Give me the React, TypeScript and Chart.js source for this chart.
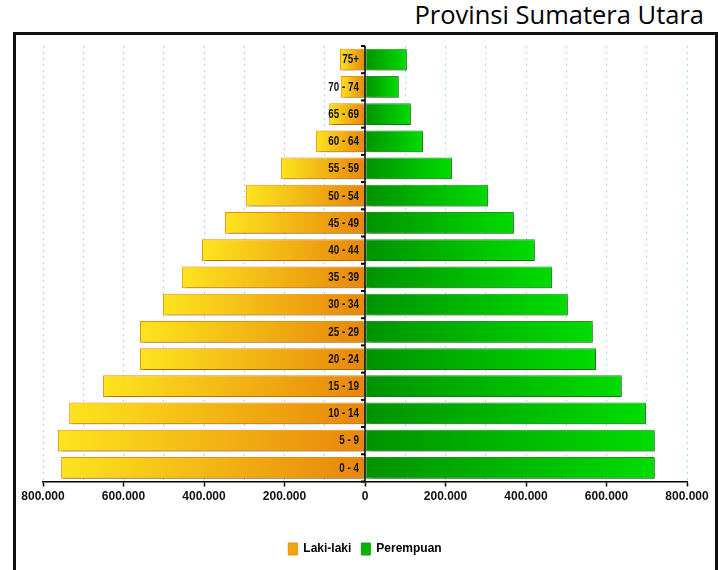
import React, { useEffect, useRef } from 'react';
import { Chart, registerables } from 'chart.js';

Chart.register(...registerables);

// ---------- data ----------
const titleText = 'Provinsi Sumatera Utara';
const seriesNames = ['Laki-laki', 'Perempuan'];
const ageGroups = [
  '75+', '70 - 74', '65 - 69', '60 - 64', '55 - 59', '50 - 54', '45 - 49', '40 - 44',
  '35 - 39', '30 - 34', '25 - 29', '20 - 24', '15 - 19', '10 - 14', '5 - 9', '0 - 4',
];
const lakiLaki = [
  62000, 60000, 89000, 122000, 209000, 296000, 348000, 405000,
  455000, 502000, 559000, 559000, 651000, 735000, 763000, 755000,
];
const perempuan = [
  104000, 84000, 114000, 144000, 216000, 306000, 370000, 422000,
  465000, 504000, 566000, 574000, 638000, 698000, 720000, 720000,
];
const axisMin = -800000;
const axisMax = 800000;
const gridStep = 100000;
const labelStep = 200000;

// ---------- styling ----------
const SANS = "'Liberation Sans', Arial, sans-serif";
const CANVAS_W = 699;
const CANVAS_H = 560;
const X_AXIS_H = 51.5;

const formatNumber = (v: number) =>
  String(Math.abs(Math.round(v))).replace(/\B(?=(\d{3})+(?!\d))/g, '.');

const barGradient = (ctx: any, fromColor: string, toColor: string, fallback: string) => {
  if (ctx.type !== 'data') return fallback;
  const chart = ctx.chart;
  const xs = chart.scales && chart.scales.x;
  if (!xs || !chart.chartArea) return fallback;
  const v = ctx.raw as number;
  const x0 = xs.getPixelForValue(0);
  const x1 = xs.getPixelForValue(v);
  if (!isFinite(x0) || !isFinite(x1) || Math.abs(x1 - x0) < 1) return fallback;
  const g = chart.ctx.createLinearGradient(x1, 0, x0, 0);
  g.addColorStop(0, fromColor);
  g.addColorStop(1, toColor);
  return g;
};

const shadowPlugin = {
  id: 'barShadow',
  beforeDatasetsDraw(chart: any) {
    const { ctx } = chart;
    ctx.save();
    ctx.shadowColor = 'rgba(0,0,0,0.32)';
    ctx.shadowOffsetX = 2;
    ctx.shadowOffsetY = 2;
    ctx.shadowBlur = 3;
  },
  afterDatasetsDraw(chart: any) {
    chart.ctx.restore();
  },
};

const centerAxisPlugin = {
  id: 'centerAxis',
  afterDatasetsDraw(chart: any) {
    const { ctx, chartArea, scales } = chart;
    const xs = scales.x;
    const ys = scales.y;
    const cx = xs.getPixelForValue(0);
    ctx.save();
    ctx.strokeStyle = '#000';
    ctx.lineWidth = 1.5;
    ctx.beginPath();
    ctx.moveTo(cx, chartArea.top);
    ctx.lineTo(cx, chartArea.bottom);
    ctx.stroke();
    ctx.lineWidth = 2;
    for (let i = 0; i <= ageGroups.length; i++) {
      const yy = ys.getPixelForValue(i - 0.5);
      ctx.beginPath();
      ctx.moveTo(cx - 4, yy);
      ctx.lineTo(cx, yy);
      ctx.stroke();
    }
    ctx.fillStyle = '#111';
    ctx.font = `bold 12px ${SANS}`;
    ctx.textAlign = 'right';
    ctx.textBaseline = 'middle';
    ageGroups.forEach((label, i) => {
      ctx.save();
      ctx.translate(cx - 6, ys.getPixelForValue(i) + 0.5);
      ctx.scale(0.82, 1);
      ctx.fillText(label, 0, 0);
      ctx.restore();
    });
    ctx.restore();
  },
};

export default function App() {
  const canvasRef = useRef<HTMLCanvasElement | null>(null);

  useEffect(() => {
    if (!canvasRef.current) return;
    const chart = new Chart(canvasRef.current, {
      type: 'bar',
      data: {
        labels: ageGroups,
        datasets: [
          {
            label: seriesNames[0],
            data: lakiLaki.map((v) => -v),
            backgroundColor: (c: any) => barGradient(c, '#fde41e', '#e8860b', '#f2b415'),
            borderColor: '#f0900c',
            borderWidth: 1,
            borderSkipped: false,
            barPercentage: 0.8,
            categoryPercentage: 1.0,
          },
          {
            label: seriesNames[1],
            data: perempuan,
            backgroundColor: (c: any) => barGradient(c, '#00dc00', '#009200', '#00b400'),
            borderColor: '#1e961e',
            borderWidth: 1,
            borderSkipped: false,
            barPercentage: 0.8,
            categoryPercentage: 1.0,
          },
        ],
      },
      options: {
        indexAxis: 'y',
        responsive: false,
        animation: false,
        devicePixelRatio: 1,
        layout: { padding: { left: 27, right: 28, top: 11, bottom: 30 } },
        scales: {
          x: {
            stacked: true,
            min: axisMin,
            max: axisMax,
            ticks: {
              stepSize: gridStep,
              autoSkip: false,
              maxRotation: 0,
              minRotation: 0,
              padding: 3,
              color: '#111',
              font: { family: SANS, size: 12, weight: 'bold' },
              callback: (v: any) => (Number(v) % labelStep === 0 ? formatNumber(Number(v)) : ''),
            },
            grid: {
              color: '#a3e2f6',
              lineWidth: 1,
              tickLength: 5,
              tickWidth: 1.5,
              tickColor: (c: any) =>
                c.tick && c.tick.value % labelStep === 0 ? '#000' : 'rgba(0,0,0,0)',
            },
            border: { display: true, color: '#000', width: 1.5, dash: [2, 4] },
            afterFit: (s: any) => {
              s.height = X_AXIS_H;
            },
          },
          y: {
            stacked: true,
            display: false,
          },
        },
        plugins: {
          title: { display: false },
          tooltip: { enabled: false },
          legend: {
            display: true,
            position: 'bottom',
            labels: {
              boxWidth: 9,
              boxHeight: 12,
              padding: 10,
              color: '#222',
              font: { family: SANS, size: 12, weight: 'bold' },
              generateLabels: () =>
                seriesNames.map((name, i) => ({
                  text: name,
                  fillStyle: i === 0 ? '#f0a412' : '#00b800',
                  strokeStyle: i === 0 ? '#f08a0c' : '#1e961e',
                  lineWidth: 1,
                  hidden: false,
                  datasetIndex: i,
                })),
            },
          },
        },
      },
      plugins: [shadowPlugin, centerAxisPlugin],
    } as any);
    return () => chart.destroy();
  }, []);

  return (
    <div
      style={{
        position: 'fixed',
        left: 0,
        top: 0,
        width: 718,
        height: 570,
        overflow: 'hidden',
        background: '#fff',
      }}
    >
      <div
        style={{
          position: 'absolute',
          right: 14,
          top: 2.3,
          fontFamily: "'Open Sans', sans-serif",
          fontSize: 25.5,
          lineHeight: 1,
          color: '#000',
          whiteSpace: 'nowrap',
        }}
      >
        {titleText}
      </div>
      <div
        style={{
          position: 'absolute',
          left: 13,
          top: 32,
          width: 705,
          height: 580,
          border: '3px solid #111',
          boxSizing: 'border-box',
        }}
      />
      <canvas
        ref={canvasRef}
        width={CANVAS_W}
        height={CANVAS_H}
        style={{ position: 'absolute', left: 16, top: 35, width: CANVAS_W, height: CANVAS_H }}
      />
    </div>
  );
}
